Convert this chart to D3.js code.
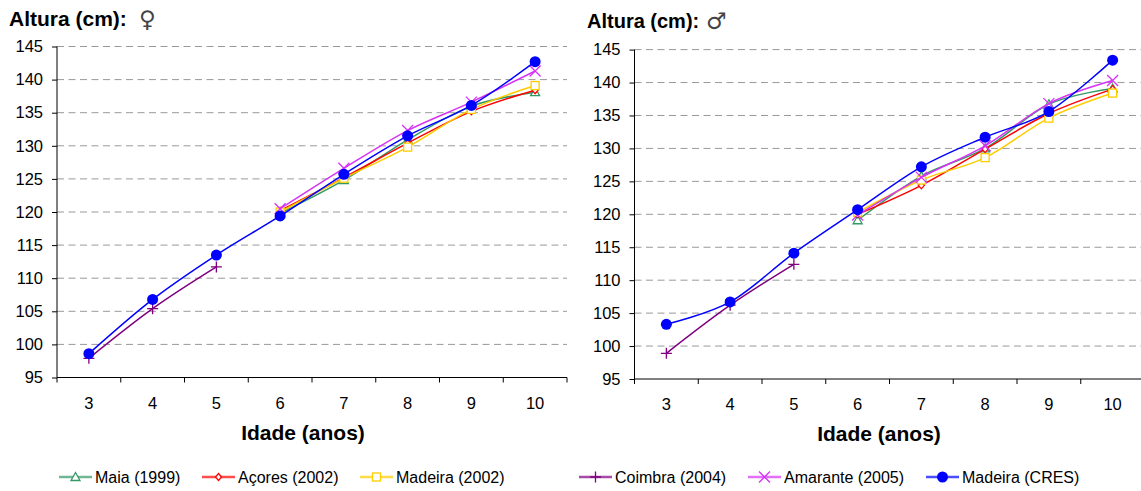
<!DOCTYPE html>
<html>
<head>
<meta charset="utf-8">
<script src="https://cdn.jsdelivr.net/npm/d3@7"></script>
<style>
  html, body { margin: 0; padding: 0; background: #fff; }
  svg { display: block; font-family: "Liberation Sans", Arial, sans-serif; }
</style>
</head>
<body>
<svg id="chart" width="1141" height="491"></svg>
<script>
// Ages (years) on the category axis
const ages = [3, 4, 5, 6, 7, 8, 9, 10];
const yTicks = [95, 100, 105, 110, 115, 120, 125, 130, 135, 140, 145];

// Height (cm), girls
const femMaia      = [null, null, null, 119.8, 124.8, 130.9, 136.0, 138.1];
const femAcores    = [null, null, null, 120.2, 125.2, 130.4, 135.2, 138.4];
const femMadeira02 = [null, null, null, 120.0, 125.1, 129.8, 135.5, 139.1];
const femCoimbra   = [97.9, 105.4, 111.7, null, null, null, null, null];
const femAmarante  = [null, null, null, 120.5, 126.6, 132.3, 136.6, 141.3];
const femCRES      = [98.6, 106.8, 113.5, 119.4, 125.7, 131.5, 136.1, 142.7];

// Height (cm), boys
const maleMaia      = [null, null, null, 119.1, 125.8, 130.0, 136.7, 139.1];
const maleAcores    = [null, null, null, 120.0, 124.4, 129.9, 135.3, 139.0];
const maleMadeira02 = [null, null, null, 120.3, 125.2, 128.6, 134.6, 138.4];
const maleCoimbra   = [98.9, 106.2, 112.4, null, null, null, null, null];
const maleAmarante  = [null, null, null, 119.9, 125.6, 130.4, 136.8, 140.3];
const maleCRES      = [103.3, 106.7, 114.1, 120.7, 127.2, 131.7, 135.6, 143.4];

const seriesNames = ["Maia (1999)", "Açores (2002)", "Madeira (2002)", "Coimbra (2004)", "Amarante (2005)", "Madeira (CRES)"];

const styles = [
  { color: "#339966", marker: "triangle" },
  { color: "#FF0000", marker: "diamond" },
  { color: "#FFCC00", marker: "square" },
  { color: "#800080", marker: "plus" },
  { color: "#D633F5", marker: "cross" },
  { color: "#0000FF", marker: "circle" }
];

const svg = d3.select("#chart");

function drawMarker(g, type, color, x, y) {
  if (type === "circle") {
    g.append("circle").attr("cx", x).attr("cy", y).attr("r", 5.5).attr("fill", color);
  } else if (type === "triangle") {
    g.append("path").attr("d", `M${x},${y - 4.5}L${x + 4.5},${y + 3.5}L${x - 4.5},${y + 3.5}Z`)
      .attr("fill", "#fff").attr("stroke", color).attr("stroke-width", 1.3);
  } else if (type === "diamond") {
    g.append("path").attr("d", `M${x},${y - 3.5}L${x + 3},${y}L${x},${y + 3.5}L${x - 3},${y}Z`)
      .attr("fill", "#fff").attr("stroke", color).attr("stroke-width", 1.3);
  } else if (type === "square") {
    g.append("rect").attr("x", x - 4).attr("y", y - 4).attr("width", 8).attr("height", 8)
      .attr("fill", "#fff").attr("stroke", color).attr("stroke-width", 1.3);
  } else if (type === "plus") {
    g.append("path").attr("d", `M${x - 5.5},${y}H${x + 5.5}M${x},${y - 5.5}V${y + 5.5}`)
      .attr("stroke", color).attr("stroke-width", 1.3);
  } else if (type === "cross") {
    g.append("path").attr("d", `M${x - 5.5},${y - 5.5}L${x + 5.5},${y + 5.5}M${x + 5.5},${y - 5.5}L${x - 5.5},${y + 5.5}`)
      .attr("stroke", color).attr("stroke-width", 1.3);
  }
}

function drawPanel(p) {
  const x = d3.scaleBand().domain(ages).range([p.left, p.left + 510]);
  const y = d3.scaleLinear().domain([95, 145]).range([p.bottom, p.top]);
  const g = svg.append("g");

  // title
  g.append("text").attr("x", p.titleX).attr("y", p.titleY)
    .attr("font-size", p.titleSize).attr("font-weight", "bold").attr("fill", "#000").text("Altura (cm):");
  g.append("text").attr("x", p.symbolX).attr("y", p.titleY + 1)
    .attr("font-size", 23).attr("font-family", "DejaVu Sans ExtraLight, DejaVu Sans")
    .attr("fill", "#444").text(p.symbol);

  // grid lines
  g.append("g").selectAll("line").data(yTicks.filter(v => v > 95)).join("line")
    .attr("x1", p.left).attr("x2", p.left + 510)
    .attr("y1", d => y(d)).attr("y2", d => y(d))
    .attr("stroke", "#999").attr("stroke-width", 1).attr("stroke-dasharray", "7,4.5");

  // y axis
  const yAxis = g.append("g").attr("transform", `translate(${p.left},0)`)
    .call(d3.axisLeft(y).tickValues(yTicks).tickSize(5).tickPadding(9).tickFormat(d3.format("d")));
  yAxis.select(".domain").attr("stroke", "#000").attr("d", `M0,${p.bottom}V${p.top}`);
  yAxis.selectAll(".tick line").attr("stroke", "#000");
  yAxis.selectAll(".tick text").attr("font-size", 16.5).attr("fill", "#000")
    .attr("font-family", "Liberation Sans, Arial, sans-serif");

  // x axis
  const xAxis = g.append("g").attr("transform", `translate(0,${p.bottom})`);
  xAxis.append("line").attr("x1", p.left).attr("x2", p.left + 510).attr("stroke", "#000");
  xAxis.selectAll("line.tk").data(d3.range(ages.length + 1)).join("line").attr("class", "tk")
    .attr("x1", i => p.left + i * x.step()).attr("x2", i => p.left + i * x.step())
    .attr("y1", 0).attr("y2", 5).attr("stroke", "#000");
  xAxis.selectAll("text").data(ages).join("text")
    .attr("x", d => x(d) + x.bandwidth() / 2).attr("y", 31)
    .attr("text-anchor", "middle").attr("font-size", 16.5).attr("fill", "#000").text(d => d);

  g.append("text").attr("x", p.axisTitleX).attr("y", p.bottom + 62)
    .attr("text-anchor", "middle").attr("font-size", 21).attr("font-weight", "bold").text("Idade (anos)");

  // series
  const cx = a => x(a) + x.bandwidth() / 2;
  const line = d3.line()
    .defined(d => d.v != null)
    .x(d => cx(d.a)).y(d => y(d.v))
    .curve(d3.curveCatmullRom.alpha(0));
  p.series.forEach((vals, i) => {
    const pts = ages.map((a, k) => ({ a, v: vals[k] }));
    const st = styles[i];
    g.append("path").datum(pts).attr("d", line)
      .attr("fill", "none").attr("stroke", st.color).attr("stroke-width", 1.5);
    const mg = g.append("g");
    pts.filter(d => d.v != null).forEach(d => drawMarker(mg, st.marker, st.color, cx(d.a), y(d.v)));
  });
}

drawPanel({
  left: 57, top: 46.5, bottom: 377.5, titleX: 9, titleY: 26, titleSize: 21, symbolX: 139, symbol: "\u2640", axisTitleX: 303,
  series: [femMaia, femAcores, femMadeira02, femCoimbra, femAmarante, femCRES]
});
drawPanel({
  left: 634.5, top: 49.6, bottom: 379, titleX: 587, titleY: 28, titleSize: 20, symbolX: 706, symbol: "\u2642", axisTitleX: 879,
  series: [maleMaia, maleAcores, maleMadeira02, maleCoimbra, maleAmarante, maleCRES]
});

// legend
const legendX = [59, 202, 360, 579, 748, 926];
const legendY = 477;
const lg = svg.append("g");
seriesNames.forEach((name, i) => {
  const st = styles[i];
  const x0 = legendX[i];
  lg.append("line").attr("x1", x0).attr("x2", x0 + 33).attr("y1", legendY).attr("y2", legendY)
    .attr("stroke", st.color).attr("stroke-width", 2.5).attr("stroke-opacity", 0.7);
  drawMarker(lg, st.marker, st.color, x0 + 16.5, legendY);
  lg.append("text").attr("x", x0 + 36).attr("y", legendY + 6)
    .attr("font-size", 16).attr("fill", "#000").text(name);
});
</script>
</body>
</html>
